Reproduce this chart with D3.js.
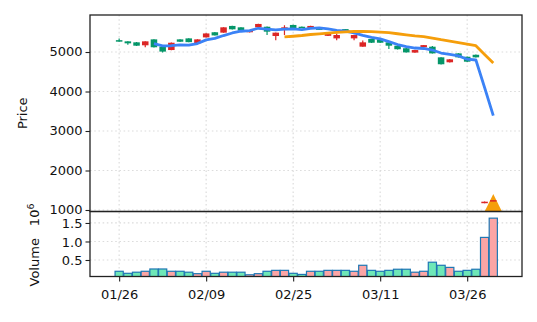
<!DOCTYPE html>
<html>
<head>
<meta charset="utf-8">
<script src="https://cdn.jsdelivr.net/npm/d3@7"></script>
<style>
  body { margin: 0; background: #fff; }
  text { font-family: "DejaVu Sans", sans-serif; fill: #111; }
</style>
</head>
<body>
<svg id="chart" width="537" height="322"></svg>
<script>
// ─── Data ────────────────────────────────────────────────────────────────────
const opens  = [5300,5270,5245,5170,5320,5135,5050,5320,5345,5220,5370,5500,5490,5660,5625,5500,5625,5640,5405,5555,5685,5640,5590,5600,5410,5345,5580,5345,5135,5330,5320,5245,5160,5095,4985,5120,5135,4865,4740,4965,4880,4930,1175,1245];
const closes = [5280,5220,5160,5270,5120,5010,5235,5260,5250,5320,5470,5420,5625,5575,5540,5555,5710,5515,5490,5625,5600,5610,5660,5560,5490,5430,5515,5430,5245,5235,5235,5160,5070,4990,5050,5175,4965,4690,4815,4865,4755,4865,1210,1250];
const highs  = [5345,5275,5255,5275,5325,5140,5240,5325,5350,5325,5475,5505,5630,5665,5630,5560,5715,5645,5495,5680,5690,5645,5665,5605,5495,5470,5585,5435,5290,5335,5325,5250,5165,5100,5055,5180,5150,4870,4820,4970,4885,4935,1215,1255];
const lows   = [5262,5185,5155,5120,5115,4990,5045,5255,5245,5215,5365,5415,5485,5570,5535,5495,5620,5430,5300,5430,5595,5605,5585,5555,5405,5300,5510,5300,5130,5230,5230,5075,5065,4985,4980,5115,4960,4685,4735,4860,4750,4860,1170,1240];
const volumes = [195000,140000,170000,195000,257000,257000,195000,195000,170000,130000,195000,140000,170000,170000,170000,100000,130000,195000,220000,220000,140000,110000,195000,195000,220000,220000,220000,195000,357000,220000,195000,220000,250000,250000,170000,195000,440000,357000,300000,195000,220000,250000,1110000,1630000];

const maPeriods = [5, 20];
const signalIdx = [43];
const signalPrice = [1190];

const xTickIdx = [0, 10, 20, 30, 40];
const xTickLabels = ["01/26", "02/09", "02/25", "03/11", "03/26"];
const priceTicks = [1000, 2000, 3000, 4000, 5000];
const volTicks = [500000, 1000000, 1500000];

// ─── Colours ─────────────────────────────────────────────────────────────────
const UP = "#dc2626", DOWN = "#059669";
const VOL_UP = "#fca5a5", VOL_DOWN = "#6ee7b7", VOL_EDGE = "#1f77b4";
const MA_COLORS = ["#3b82f6", "#f59e0b"];

// ─── Layout ──────────────────────────────────────────────────────────────────
const L = 90, R = 522;
const mainTop = 15, mainBot = 211.5, volBot = 276.5;

const svg = d3.select("#chart");
const n = closes.length;
const candles = d3.range(n).map(i => ({
  i, o: opens[i], c: closes[i], h: highs[i], l: lows[i], v: volumes[i], up: closes[i] >= opens[i]
}));

const x = d3.scaleLinear().domain([-3.35, 46.3]).range([L, R]);
const step = x(1) - x(0);
const y = d3.scaleLinear().domain([962, 5937]).range([mainBot, mainTop]);
const yv = d3.scaleLinear().domain([54000, 1810000]).range([volBot, mainBot]);

const defs = svg.append("defs");
defs.append("clipPath").attr("id", "clip-main")
  .append("rect").attr("x", L).attr("y", mainTop).attr("width", R - L).attr("height", mainBot - mainTop);
defs.append("clipPath").attr("id", "clip-vol")
  .append("rect").attr("x", L).attr("y", mainBot).attr("width", R - L).attr("height", volBot - mainBot);

// grids
const gridStyle = g => g.attr("stroke", "#dcdcdc").attr("stroke-width", 1.2).attr("stroke-dasharray", "1.6,2.6");
const grid = svg.append("g");
grid.selectAll(".gy").data(priceTicks).join("line")
  .attr("x1", L).attr("x2", R).attr("y1", d => y(d)).attr("y2", d => y(d)).call(gridStyle);
grid.selectAll(".gv").data(volTicks).join("line")
  .attr("x1", L).attr("x2", R).attr("y1", d => yv(d)).attr("y2", d => yv(d)).call(gridStyle);
grid.selectAll(".gx").data(xTickIdx).join("line")
  .attr("x1", d => x(d)).attr("x2", d => x(d)).attr("y1", mainTop).attr("y2", volBot).call(gridStyle);

// ─── Candles ─────────────────────────────────────────────────────────────────
const main = svg.append("g").attr("clip-path", "url(#clip-main)");
const bodyW = step * 0.75;

// signal marker
main.selectAll(".signal").data(signalIdx).join("path")
  .attr("d", (d, k) => {
    const cx = x(d), cy = y(signalPrice[k]), s = 8.4;
    return `M${cx},${cy - s}L${cx + s},${cy + s}L${cx - s},${cy + s}Z`;
  })
  .attr("fill", MA_COLORS[1]);

main.selectAll(".wick").data(candles).join("line")
  .attr("x1", d => x(d.i)).attr("x2", d => x(d.i))
  .attr("y1", d => y(d.h)).attr("y2", d => y(d.l))
  .attr("stroke", d => d.up ? UP : DOWN).attr("stroke-width", 1.2);

main.selectAll(".body").data(candles).join("rect")
  .attr("x", d => x(d.i) - bodyW / 2)
  .attr("width", bodyW)
  .attr("y", d => y(Math.max(d.o, d.c)))
  .attr("height", d => Math.max(1.5, Math.abs(y(d.o) - y(d.c))))
  .attr("fill", d => d.up ? UP : DOWN);

// moving averages
maPeriods.forEach((p, k) => {
  const pts = d3.range(p - 1, n).map(i => [i, d3.mean(closes.slice(i - p + 1, i + 1))]);
  main.append("path")
    .datum(pts)
    .attr("d", d3.line().x(d => x(d[0])).y(d => y(d[1])))
    .attr("fill", "none")
    .attr("stroke", MA_COLORS[k])
    .attr("stroke-width", 2.8)
    .attr("stroke-linejoin", "round");
});

// ─── Volume ──────────────────────────────────────────────────────────────────
const vol = svg.append("g").attr("clip-path", "url(#clip-vol)");
vol.selectAll(".vbar").data(candles).join("rect")
  .attr("x", d => x(d.i) - step * 0.47)
  .attr("width", step * 0.94)
  .attr("y", d => yv(d.v))
  .attr("height", d => volBot + 5 - yv(d.v))
  .attr("fill", d => d.up ? VOL_UP : VOL_DOWN)
  .attr("stroke", VOL_EDGE)
  .attr("stroke-width", 1.2);

// ─── Axes ────────────────────────────────────────────────────────────────────
const fontSize = "13px";
const axisStyle = g => {
  g.select(".domain").remove();
  g.selectAll(".tick line").attr("stroke", "#222").attr("stroke-width", 1.1);
  g.selectAll(".tick text").attr("font-size", fontSize).attr("fill", "#111")
    .attr("font-family", "DejaVu Sans, sans-serif");
};

svg.append("g").attr("transform", `translate(${L},0)`)
  .call(d3.axisLeft(y).tickValues(priceTicks).tickSize(4.5).tickPadding(3).tickFormat(d3.format("d")))
  .call(axisStyle)
  .selectAll(".tick text").attr("dy", "0.28em");

svg.append("g").attr("transform", `translate(${L},0)`)
  .call(d3.axisLeft(yv).tickValues(volTicks).tickSize(4.5).tickPadding(3).tickFormat(d => (d / 1e6).toFixed(1)))
  .call(axisStyle)
  .selectAll(".tick text").attr("dy", "0.36em");

svg.append("g").attr("transform", `translate(0,${volBot})`)
  .call(d3.axisBottom(x).tickValues(xTickIdx).tickSize(5).tickPadding(8)
    .tickFormat((d, k) => xTickLabels[k]))
  .call(axisStyle);

// frames
const frame = svg.append("g").attr("fill", "none").attr("stroke", "#222").attr("stroke-width", 1.3);
frame.append("rect").attr("x", L).attr("y", mainTop).attr("width", R - L).attr("height", mainBot - mainTop);
frame.append("rect").attr("x", L).attr("y", mainBot).attr("width", R - L).attr("height", volBot - mainBot);

// axis labels
svg.append("text")
  .attr("transform", `translate(27,${(mainTop + mainBot) / 2}) rotate(-90)`)
  .attr("text-anchor", "middle").attr("font-size", fontSize)
  .text("Price");

const vl = svg.append("text")
  .attr("transform", `translate(39,${(mainBot + volBot) / 2 + 1}) rotate(-90)`)
  .attr("text-anchor", "middle").attr("font-size", fontSize);
vl.append("tspan").text("Volume");
vl.append("tspan").attr("dx", 12).text("10");
vl.append("tspan").attr("font-size", "9.5px").attr("dy", "-0.55em").text("6");
</script>
</body>
</html>
